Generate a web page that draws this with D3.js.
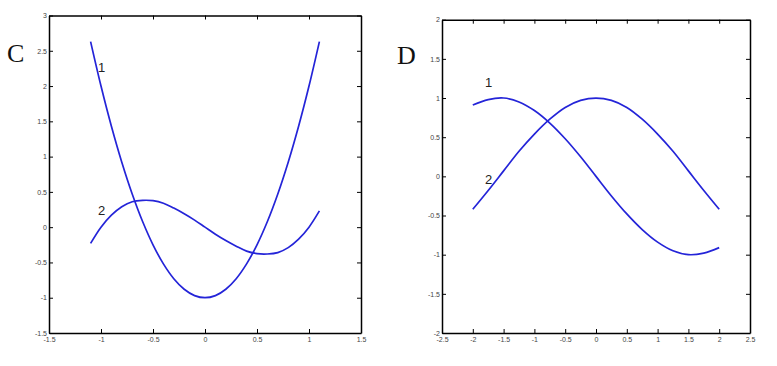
<!DOCTYPE html>
<html>
<head>
<meta charset="utf-8">
<script src="https://cdn.jsdelivr.net/npm/d3@7"></script>
<style>
  body { margin: 0; background: #fff; }
  .tick text { font-family: "Liberation Sans", Arial, sans-serif; font-size: 7px; fill: #444; }
  .domain { stroke: #000; stroke-width: 1.5px; }
  .tick line { stroke: #000; }
</style>
</head>
<body>
<svg id="chart" width="777" height="366"></svg>
<script>
// panel C data
var xC = [-1.1, -1.0, -0.9, -0.8, -0.7, -0.6, -0.5, -0.4, -0.3, -0.2, -0.1, 0,
          0.1, 0.2, 0.3, 0.4, 0.5, 0.6, 0.7, 0.8, 0.9, 1.0, 1.1]
var c1 = [2.63, 2.0, 1.43, 0.92, 0.47, 0.08, -0.25, -0.52, -0.73, -0.88, -0.97, -1.0,
          -0.97, -0.88, -0.73, -0.52, -0.25, 0.08, 0.47, 0.92, 1.43, 2.0, 2.63]
var c2 = [-0.23, 0, 0.17, 0.29, 0.36, 0.38, 0.375, 0.34, 0.27, 0.19, 0.1, 0,
          -0.1, -0.19, -0.27, -0.34, -0.375, -0.38, -0.36, -0.29, -0.17, 0, 0.23]
var xTicksC = [-1.5, -1, -0.5, 0, 0.5, 1, 1.5]
var yTicksC = [-1.5, -1, -0.5, 0, 0.5, 1, 1.5, 2, 2.5, 3]

// panel D data
var xD = [-2, -1.75, -1.5, -1.25, -1, -0.75, -0.5, -0.25, 0,
          0.25, 0.5, 0.75, 1, 1.25, 1.5, 1.75, 2]
var d1 = [0.91, 0.98, 1.0, 0.95, 0.84, 0.68, 0.48, 0.25, 0,
          -0.25, -0.48, -0.68, -0.84, -0.95, -1.0, -0.98, -0.91]
var d2 = [-0.42, -0.18, 0.07, 0.32, 0.54, 0.73, 0.88, 0.97, 1.0,
          0.97, 0.88, 0.73, 0.54, 0.32, 0.07, -0.18, -0.42]
var xTicksD = [-2.5, -2, -1.5, -1, -0.5, 0, 0.5, 1, 1.5, 2, 2.5]
var yTicksD = [-2, -1.5, -1, -0.5, 0, 0.5, 1, 1.5, 2]

var svg = d3.select("#chart")

function panel(opt) {
    var x = d3.scaleLinear().domain(opt.xDomain).range([opt.left, opt.right])
    var y = d3.scaleLinear().domain(opt.yDomain).range([opt.bottom, opt.top])
    var g = svg.append("g")
    var fmt = d => String(d)

    g.append("g").attr("transform", `translate(0,${opt.bottom})`)
        .call(d3.axisBottom(x).tickValues(opt.xTicks).tickFormat(fmt).tickSizeInner(-4).tickSizeOuter(0).tickPadding(4.5))
    g.append("g").attr("transform", `translate(0,${opt.top})`)
        .call(d3.axisTop(x).tickValues(opt.xTicks).tickFormat("").tickSizeInner(-4).tickSizeOuter(0))
    g.append("g").attr("transform", `translate(${opt.left},0)`)
        .call(d3.axisLeft(y).tickValues(opt.yTicks).tickFormat(fmt).tickSizeInner(-4).tickSizeOuter(0).tickPadding(2))
    g.append("g").attr("transform", `translate(${opt.right},0)`)
        .call(d3.axisRight(y).tickValues(opt.yTicks).tickFormat("").tickSizeInner(-4).tickSizeOuter(0))

    var line = d3.line().x(d => x(d[0])).y(d => y(d[1])).curve(d3.curveCatmullRom)
    opt.series.forEach(function(s) {
        g.append("path")
            .datum(opt.xs.map((v, i) => [v, s[i]]))
            .attr("d", line)
            .attr("fill", "none")
            .attr("stroke", "#2424d8")
            .attr("stroke-width", 1.7)
    })

    // curve labels
    opt.labels.forEach(function(l) {
        g.append("text")
            .attr("x", x(l.x)).attr("y", y(l.y))
            .attr("font-family", "Liberation Sans, Arial, sans-serif")
            .attr("font-size", 13)
            .attr("fill", "#222")
            .text(l.t)
    })

    // panel letter
    g.append("text")
        .attr("x", opt.letterX).attr("y", opt.letterY)
        .attr("font-family", "Liberation Serif, Times New Roman, serif")
        .attr("font-size", 26)
        .attr("fill", "#111")
        .text(opt.letter)
}

panel({
    xDomain: [-1.5, 1.5], yDomain: [-1.5, 3],
    left: 49, right: 361, top: 15.5, bottom: 333,
    xTicks: xTicksC, yTicks: yTicksC,
    xs: xC, series: [c1, c2],
    labels: [{x: -1.03, y: 2.2, t: "1"}, {x: -1.03, y: 0.17, t: "2"}],
    letter: "C", letterX: 7, letterY: 62
})

panel({
    xDomain: [-2.5, 2.5], yDomain: [-2, 2],
    left: 442, right: 750, top: 19.7, bottom: 333,
    xTicks: xTicksD, yTicks: yTicksD,
    xs: xD, series: [d1, d2],
    labels: [{x: -1.8, y: 1.14, t: "1"}, {x: -1.8, y: -0.1, t: "2"}],
    letter: "D", letterX: 397, letterY: 64
})
</script>
</body>
</html>
